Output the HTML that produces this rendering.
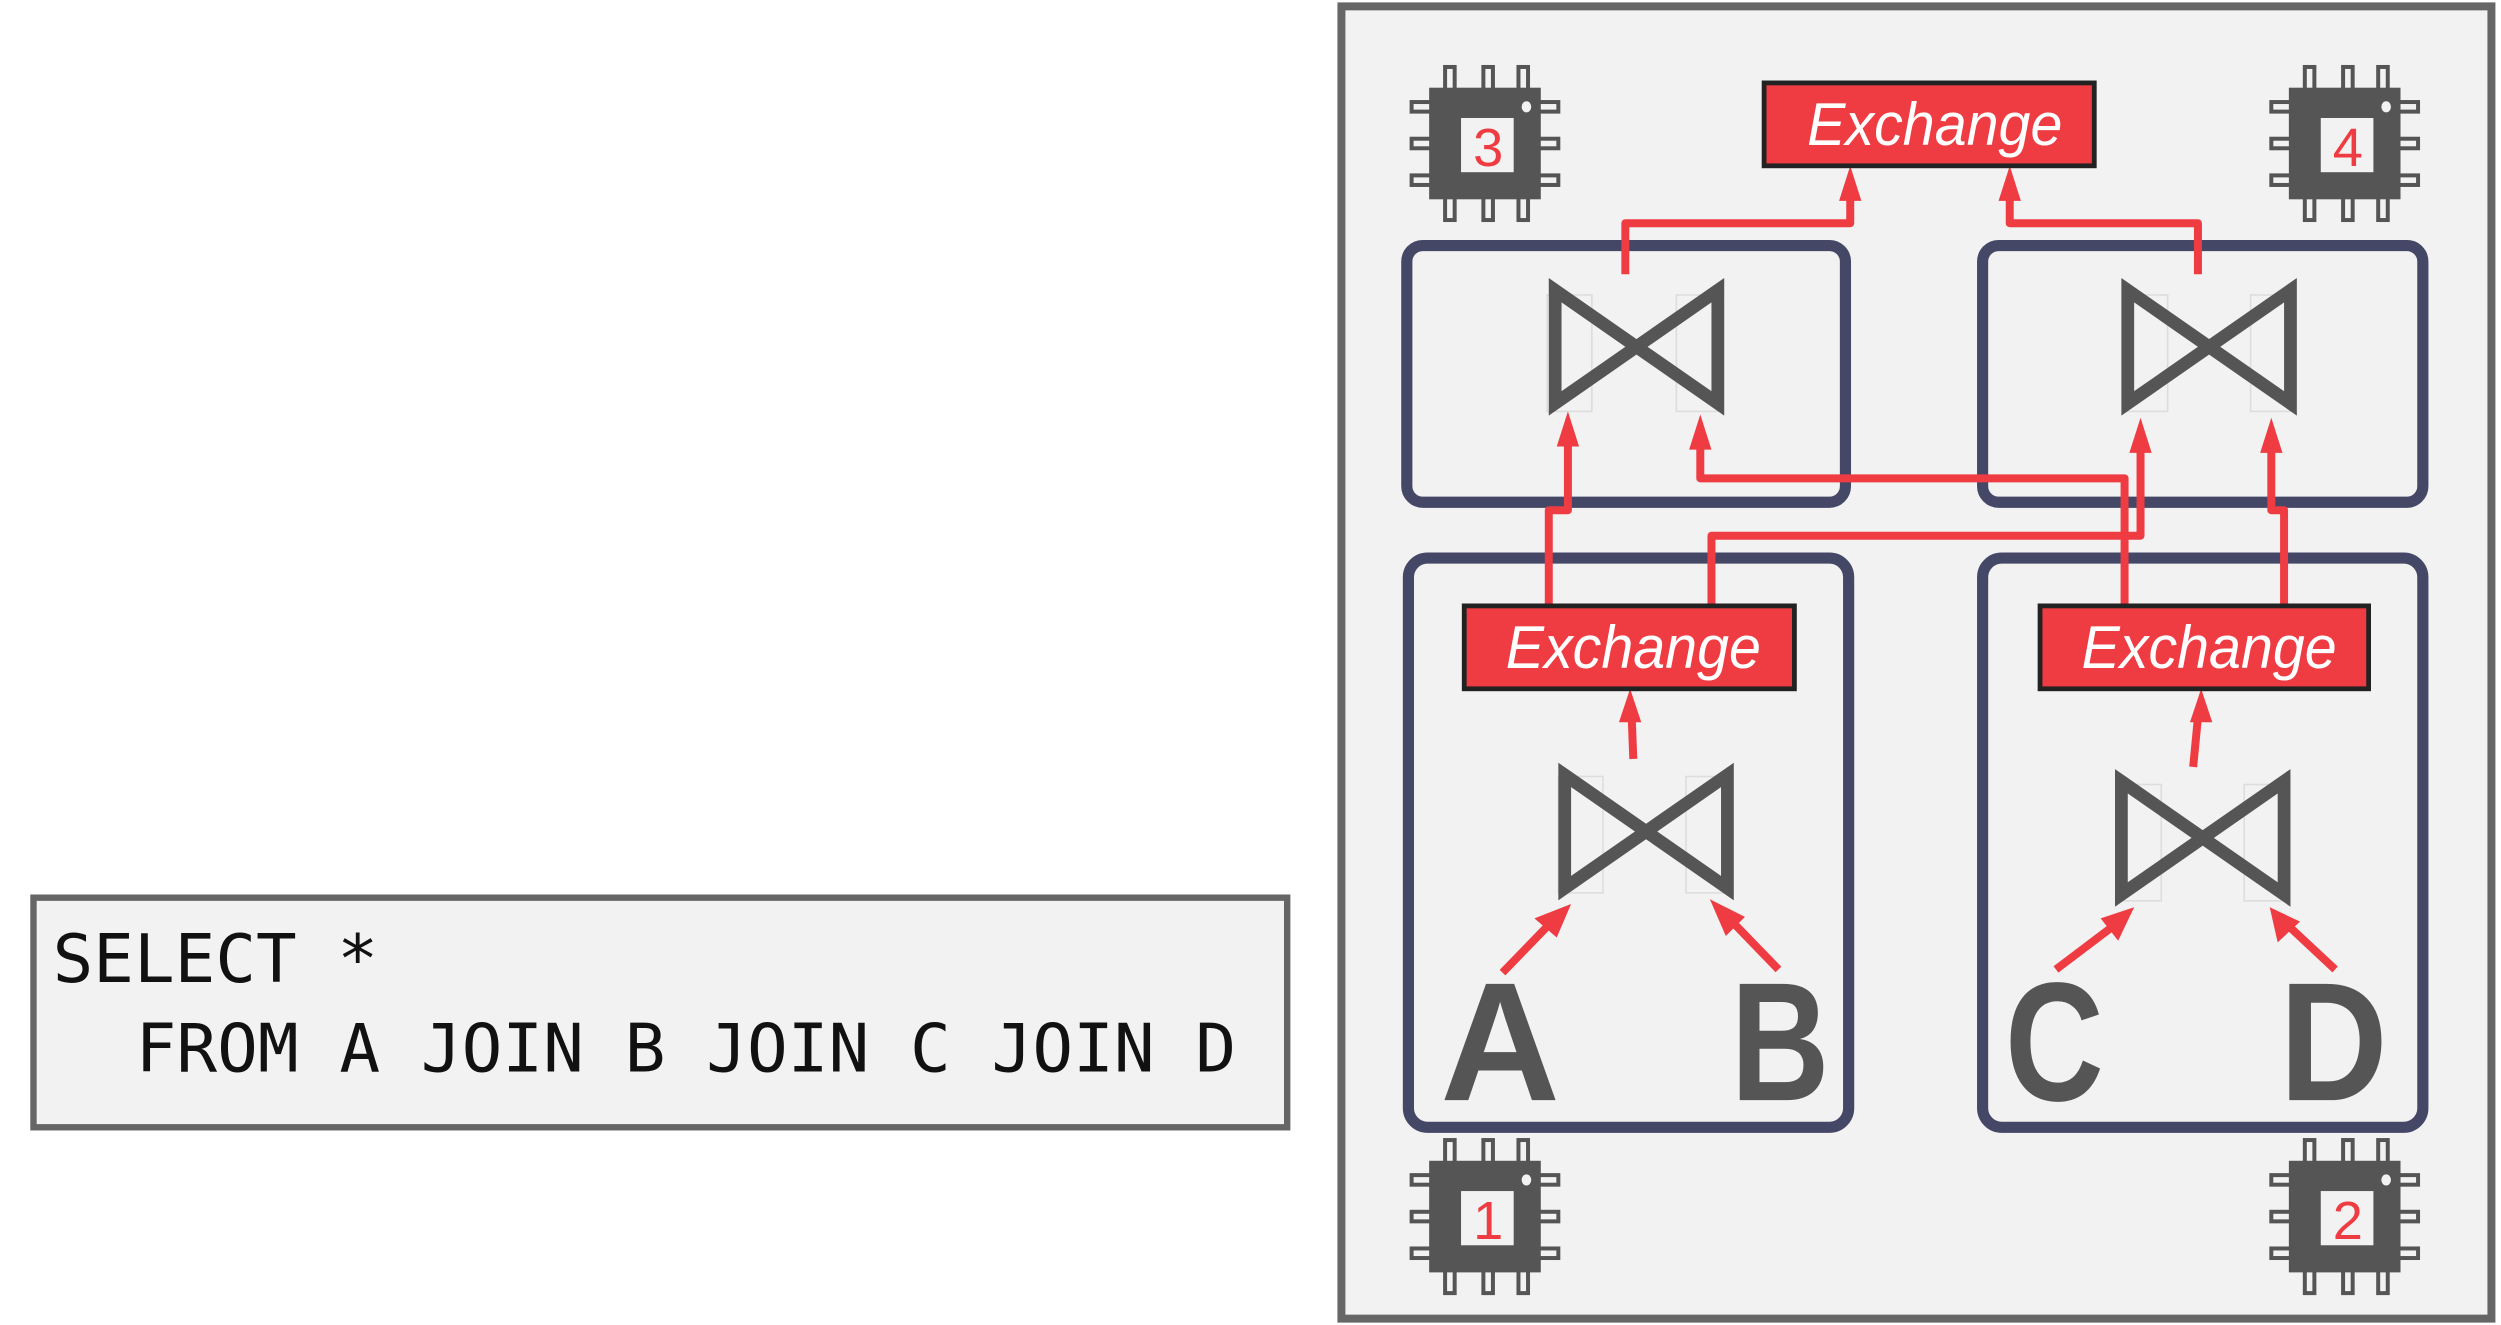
<!DOCTYPE html>
<html><head><meta charset="utf-8"><style>
html,body{margin:0;padding:0;background:#fff;}
svg{display:block;}
</style></head><body>
<svg width="2501" height="1325" viewBox="0 0 1568 831" preserveAspectRatio="none" xmlns="http://www.w3.org/2000/svg">
<defs>
<g id="chip">
  <g fill="#f2f2f2" stroke="#555" stroke-width="2.5">
    <rect x="-25" y="-48" width="6" height="15"/><rect x="-1" y="-48" width="6" height="15"/><rect x="21" y="-48" width="6" height="15"/>
    <rect x="-25" y="33" width="6" height="15"/><rect x="-1" y="33" width="6" height="15"/><rect x="21" y="33" width="6" height="15"/>
    <rect x="-46" y="-26" width="15" height="6"/><rect x="-46" y="-3" width="15" height="6"/><rect x="-46" y="20" width="15" height="6"/>
    <rect x="31" y="-26" width="15" height="6"/><rect x="31" y="-3" width="15" height="6"/><rect x="31" y="20" width="15" height="6"/>
  </g>
  <rect x="-35" y="-35" width="70" height="70" fill="#555"/>
  <rect x="-15" y="-16" width="33" height="34" fill="#f2f2f2"/>
  <ellipse cx="26" cy="-23" rx="3" ry="3.5" fill="#f2f2f2"/>
</g>
<g id="bow">
  <path d="M0,0 L102,71 L102,0 L0,71 Z" fill="none" stroke="#555" stroke-width="8" stroke-linejoin="miter"/>
</g>
</defs>

<rect x="21" y="563" width="786" height="144" fill="#f2f2f2" stroke="#666" stroke-width="4"/>
<g font-family="'DejaVu Sans Mono','Liberation Mono',monospace" font-size="42" fill="#111">
<text x="33" y="616" textLength="204" lengthAdjust="spacingAndGlyphs">SELECT *</text>
<text x="85" y="672" textLength="690" lengthAdjust="spacingAndGlyphs">FROM A JOIN B JOIN C JOIN D</text>
</g>

<rect x="841" y="4" width="721" height="823" fill="#f2f2f2" stroke="#666" stroke-width="5"/>

<g fill="none" stroke="#454766" stroke-width="7">
<rect x="882" y="154" width="275" height="161" rx="10"/>
<rect x="1243" y="154" width="276" height="161" rx="10"/>
<rect x="883" y="350" width="276" height="357" rx="12"/>
<rect x="1243" y="350" width="276" height="357" rx="12"/>
</g>

<use href="#chip" transform="translate(931,90)"/>
<use href="#chip" transform="translate(1470,90)"/>
<use href="#chip" transform="translate(931,763)"/>
<use href="#chip" transform="translate(1470,763)"/>
<g font-family="'Liberation Sans Narrow','Liberation Sans',sans-serif" font-size="34" fill="#ee3c42" text-anchor="middle">
<text x="933" y="104">3</text>
<text x="1472" y="104">4</text>
<text x="933" y="777">1</text>
<text x="1472" y="777">2</text>
</g>

<g fill="none" stroke="#ddd" stroke-width="1">
<rect x="970" y="185" width="28" height="73"/><rect x="1051" y="185" width="28" height="73"/>
<rect x="1331" y="185" width="28" height="73"/><rect x="1411" y="185" width="28" height="73"/>
<rect x="977" y="487" width="28" height="73"/><rect x="1057" y="487" width="28" height="73"/>
<rect x="1327" y="492" width="28" height="73"/><rect x="1407" y="492" width="28" height="73"/>
</g>

<use href="#bow" transform="translate(975,182)"/>
<use href="#bow" transform="translate(1334,182)"/>
<use href="#bow" transform="translate(981,486)"/>
<use href="#bow" transform="translate(1330,490)"/>

<g fill="none" stroke="#ee3c42" stroke-width="5" stroke-linejoin="round">
<path d="M1019,172 V140 H1160 V122"/>
<path d="M1378,172 V140 H1260 V122"/>
<path d="M971,380 V320 H983 V276"/>
<path d="M1332,380 V300 H1066 V278"/>
<path d="M1073,380 V336 H1342 V280"/>
<path d="M1432,380 V320 H1424 V280"/>
<path d="M1024,476 L1023,450"/>
<path d="M1375,481 L1378,450"/>
<path d="M942,610 L973,578"/>
<path d="M1115,608 L1084,576"/>
<path d="M1289,608 L1326,580"/>
<path d="M1464,608 L1434,580"/>
</g>
<g fill="#ee3c42">
<polygon points="1160,104 1153,126 1167,126"/>
<polygon points="1260,104 1253,126 1267,126"/>
<polygon points="983,258 976,280 990,280"/>
<polygon points="1066,260 1059,282 1073,282"/>
<polygon points="1342,262 1335,284 1349,284"/>
<polygon points="1424,262 1417,284 1431,284"/>
<polygon points="1022,432 1015,453 1029,453"/>
<polygon points="1380,432 1373,453 1387,453"/>
<polygon points="985,567 962,576 976,588"/>
<polygon points="1072,564 1082,587 1094,575"/>
<polygon points="1338,569 1317,576 1328,590"/>
<polygon points="1423,569 1428,591 1442,578"/>
</g>

<g fill="#ee3c42" stroke="#222" stroke-width="3">
<rect x="1106" y="52" width="207" height="52"/>
<rect x="918" y="380" width="207" height="52"/>
<rect x="1279" y="380" width="206" height="52"/>
</g>
<g font-family="'Liberation Sans',sans-serif" font-style="italic" font-size="38" fill="#fff">
<text x="1133" y="91" textLength="160" lengthAdjust="spacingAndGlyphs">Exchange</text>
<text x="944" y="419" textLength="160" lengthAdjust="spacingAndGlyphs">Exchange</text>
<text x="1305" y="419" textLength="160" lengthAdjust="spacingAndGlyphs">Exchange</text>
</g>

<g font-family="'Liberation Sans',sans-serif" font-weight="bold" font-size="106" fill="#555">
<text x="903" y="690" textLength="75" lengthAdjust="spacingAndGlyphs">A</text>
<text x="1085" y="690" textLength="62" lengthAdjust="spacingAndGlyphs">B</text>
<text x="1257" y="690" textLength="62" lengthAdjust="spacingAndGlyphs">C</text>
<text x="1429" y="690" textLength="68" lengthAdjust="spacingAndGlyphs">D</text>
</g>
</svg>
</body></html>
